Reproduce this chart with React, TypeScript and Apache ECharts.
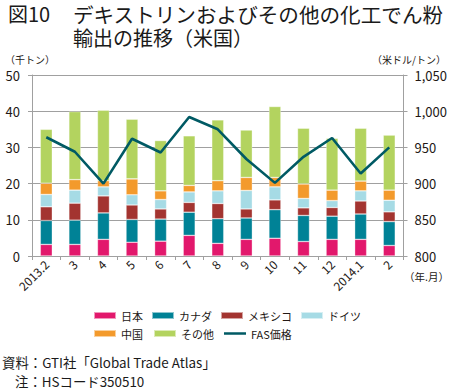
import React, { useEffect, useRef } from "react";
import * as echarts from "echarts";

const categories = ["2013.2", "3", "4", "5", "6", "7", "8", "9", "10", "11", "12", "2014.1", "2"];
const japan = [3.2, 3.2, 4.6, 3.8, 4.1, 5.7, 3.5, 4.6, 4.9, 4.0, 4.6, 4.6, 2.9];
const canada = [6.6, 6.7, 7.3, 6.3, 6.1, 6.4, 6.8, 5.9, 7.9, 7.2, 6.4, 7.0, 6.6];
const mexico = [3.8, 4.7, 4.7, 4.0, 2.8, 2.7, 4.2, 2.5, 2.7, 2.1, 2.4, 3.6, 2.7];
const germany = [3.4, 3.6, 2.5, 2.8, 2.6, 2.9, 3.5, 5.1, 3.6, 2.6, 1.9, 2.8, 3.2];
const china = [3.1, 2.9, 1.7, 4.4, 2.4, 1.8, 2.8, 3.6, 2.6, 4.0, 2.9, 2.7, 2.8];
const others = [14.9, 18.8, 19.5, 16.5, 13.9, 13.7, 16.8, 13.1, 19.6, 15.4, 14.3, 14.6, 15.2];
const fasPrice = [964, 944, 900, 962, 943, 992, 975, 934, 901, 937, 963, 914, 950];

const FONT = "'Noto Sans CJK JP', 'Noto Sans', sans-serif";
const TXT = "#231815";
const GRID = "#a0a0a0";

const barSeries = [
  { name: "日本", data: japan, color: "#e2186c" },
  { name: "カナダ", data: canada, color: "#008296" },
  { name: "メキシコ", data: mexico, color: "#a33430" },
  { name: "ドイツ", data: germany, color: "#a6dbe5" },
  { name: "中国", data: china, color: "#f39a2c" },
  { name: "その他", data: others, color: "#b3d35f" },
];

// thin horizontal bar inside a 24x7 box (zero-area corner points keep the box size)
const LINE_ICON = "path://M0 0L0.01 0ZM0 2.2H24V4.8H0ZM24 7L23.99 7Z";

export default function App() {
  const ref = useRef<HTMLDivElement>(null);
  useEffect(() => {
    document.body.style.margin = "0";
    const chart = echarts.init(ref.current!, null, { renderer: "svg" });
    const legendText = { fontFamily: FONT, fontSize: 11, color: TXT };
    chart.setOption({
      animation: false,
      backgroundColor: "#ffffff",
      textStyle: { fontFamily: FONT },
      grid: { left: 32, right: 46, top: 75, bottom: 133, containLabel: false },
      legend: [
        {
          left: 88,
          top: 305,
          itemWidth: 22,
          itemHeight: 7,
          itemGap: 8,
          symbolKeepAspect: false,
          textStyle: legendText,
          data: ["日本", "カナダ", "メキシコ", "ドイツ"].map((n) => ({ name: n, icon: "rect" })),
        },
        {
          left: 88,
          top: 323,
          itemWidth: 22,
          itemHeight: 7,
          itemGap: 10,
          symbolKeepAspect: false,
          textStyle: legendText,
          data: [
            { name: "中国", icon: "rect" },
            { name: "その他", icon: "rect" },
            { name: "FAS価格", icon: LINE_ICON },
          ],
        },
      ],
      xAxis: {
        type: "category",
        data: categories,
        axisLine: { lineStyle: { color: GRID, width: 1 } },
        axisTick: { show: true, length: 4, lineStyle: { color: GRID } },
        axisLabel: { rotate: 45, fontSize: 12, color: TXT, margin: 6, fontFamily: FONT },
      },
      yAxis: [
        {
          type: "value",
          min: 0,
          max: 50,
          interval: 10,
          axisLine: { show: true, lineStyle: { color: GRID } },
          axisTick: { show: true, length: 4, lineStyle: { color: GRID } },
          splitLine: { lineStyle: { color: GRID, width: 1 } },
          axisLabel: { fontSize: 13, color: TXT, margin: 12, fontFamily: FONT },
        },
        {
          type: "value",
          min: 800,
          max: 1050,
          interval: 50,
          axisLine: { show: true, lineStyle: { color: GRID } },
          axisTick: { show: true, length: 4, lineStyle: { color: GRID } },
          splitLine: { show: false },
          axisLabel: {
            fontSize: 13,
            color: TXT,
            margin: 11,
            fontFamily: FONT,
            formatter: (v: number) => v.toLocaleString("en-US"),
          },
        },
      ],
      series: [
        ...barSeries.map((s) => ({
          name: s.name,
          type: "bar",
          stack: "total",
          barWidth: 12,
          data: s.data,
          itemStyle: { color: s.color, borderColor: "rgba(255,255,255,0.55)", borderWidth: 0.6 },
        })),
        {
          name: "FAS価格",
          type: "line",
          yAxisIndex: 1,
          data: fasPrice,
          symbol: "none",
          z: 5,
          lineStyle: { color: "#005a64", width: 2.6 },
          itemStyle: { color: "#005a64" },
        },
      ],
      graphic: [
        { type: "text", left: 8, top: 3, style: { text: "図10", font: `20px ${FONT}`, lineHeight: 21, fill: "#1a1a1a" } },
        {
          type: "text",
          left: 73,
          top: 3,
          style: { text: "デキストリンおよびその他の化工でん粉", font: `20.6px ${FONT}`, lineHeight: 21, fill: "#1a1a1a" },
        },
        {
          type: "text",
          left: 73,
          top: 27,
          style: { text: "輸出の推移（米国）", font: `20px ${FONT}`, lineHeight: 21, fill: "#1a1a1a" },
        },
        { type: "text", left: 5, top: 53, style: { text: "（千トン）", font: `10px ${FONT}`, lineHeight: 12, fill: TXT } },
        {
          type: "text",
          right: 4,
          top: 53,
          style: { text: "（米ドル/トン）", font: `10px ${FONT}`, lineHeight: 12, fill: TXT },
        },
        { type: "text", left: 404, top: 270, style: { text: "（年.月）", font: `10.5px ${FONT}`, lineHeight: 12, fill: TXT } },
        {
          type: "text",
          left: 2,
          top: 354,
          style: { text: "資料：GTI社「Global Trade Atlas」", font: `13.4px ${FONT}`, lineHeight: 15, fill: "#1a1a1a" },
        },
        {
          type: "text",
          left: 15,
          top: 373,
          style: { text: "注：HSコード350510", font: `13.4px ${FONT}`, lineHeight: 15, fill: "#1a1a1a" },
        },
      ],
    });
    return () => chart.dispose();
  }, []);
  return <div ref={ref} style={{ width: 450, height: 389 }} />;
}
